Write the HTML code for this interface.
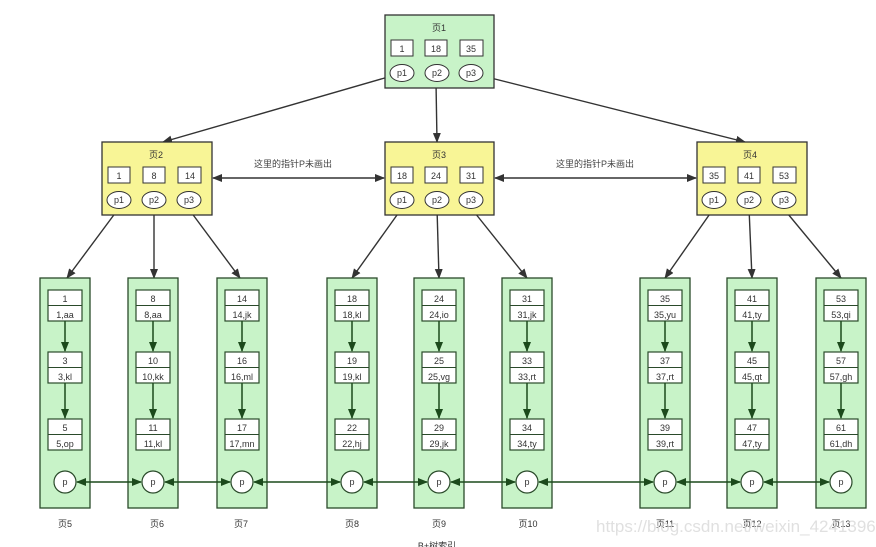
<!DOCTYPE html>
<html><head><meta charset="utf-8"><style>
html,body{margin:0;padding:0;background:#fff;}
svg{display:block;font-family:"Liberation Sans","Noto Sans CJK SC",sans-serif;}
</style></head><body>
<svg width="876" height="547" viewBox="0 0 876 547" xmlns="http://www.w3.org/2000/svg">
<defs>
<marker id="a" markerWidth="10" markerHeight="8" refX="9" refY="4" orient="auto" markerUnits="userSpaceOnUse"><path d="M0,0 L10,4 L0,8 z" fill="#333"/></marker>
<marker id="b" markerWidth="10" markerHeight="8" refX="1" refY="4" orient="auto" markerUnits="userSpaceOnUse"><path d="M10,0 L0,4 L10,8 z" fill="#333"/></marker>
<marker id="g" markerWidth="10" markerHeight="8" refX="9" refY="4" orient="auto" markerUnits="userSpaceOnUse"><path d="M0,0 L10,4 L0,8 z" fill="#1c4a1c"/></marker>
<marker id="gb" markerWidth="10" markerHeight="8" refX="1" refY="4" orient="auto" markerUnits="userSpaceOnUse"><path d="M10,0 L0,4 L10,8 z" fill="#1c4a1c"/></marker>
</defs>
<g stroke="#333" stroke-width="1.4" fill="none">
<line x1="402" y1="73" x2="163" y2="142" marker-end="url(#a)"/>
<line x1="436" y1="82" x2="437" y2="142" marker-end="url(#a)"/>
<line x1="471" y1="73" x2="745" y2="142" marker-end="url(#a)"/>
<line x1="119" y1="208" x2="67" y2="278" marker-end="url(#a)"/>
<line x1="154" y1="208" x2="154" y2="278" marker-end="url(#a)"/>
<line x1="188" y1="208" x2="240" y2="278" marker-end="url(#a)"/>
<line x1="402" y1="208" x2="352" y2="278" marker-end="url(#a)"/>
<line x1="437" y1="208" x2="439" y2="278" marker-end="url(#a)"/>
<line x1="471" y1="208" x2="527" y2="278" marker-end="url(#a)"/>
<line x1="714" y1="208" x2="665" y2="278" marker-end="url(#a)"/>
<line x1="749" y1="208" x2="752" y2="278" marker-end="url(#a)"/>
<line x1="783" y1="208" x2="841" y2="278" marker-end="url(#a)"/>
<line x1="213" y1="178" x2="384" y2="178" marker-start="url(#b)" marker-end="url(#a)"/>
<line x1="495" y1="178" x2="696" y2="178" marker-start="url(#b)" marker-end="url(#a)"/>
</g>
<g font-size="9" fill="#444">
<text x="293" y="167" text-anchor="middle">这里的指针P未画出</text>
<text x="595" y="167" text-anchor="middle">这里的指针P未画出</text>
</g>
<!-- internal nodes -->
<g font-size="9" fill="#333" text-anchor="middle">
<rect x="385" y="15" width="109" height="73" fill="#c8f3c8" stroke="#333" stroke-width="1.3"/>
<text x="439" y="31">页1</text>
<rect x="391" y="40" width="22" height="16" fill="#fff" stroke="#333"/><text x="402" y="52">1</text>
<rect x="425" y="40" width="22" height="16" fill="#fff" stroke="#333"/><text x="436" y="52">18</text>
<rect x="460" y="40" width="23" height="16" fill="#fff" stroke="#333"/><text x="471" y="52">35</text>
<ellipse cx="402" cy="73" rx="12" ry="8.5" fill="#fff" stroke="#333"/><text x="402" y="76">p1</text>
<ellipse cx="437" cy="73" rx="12" ry="8.5" fill="#fff" stroke="#333"/><text x="437" y="76">p2</text>
<ellipse cx="471" cy="73" rx="12" ry="8.5" fill="#fff" stroke="#333"/><text x="471" y="76">p3</text>

<rect x="102" y="142" width="110" height="73" fill="#f8f596" stroke="#333" stroke-width="1.3"/>
<text x="156" y="158">页2</text>
<rect x="108" y="167" width="22" height="16" fill="#fff" stroke="#333"/><text x="119" y="179">1</text>
<rect x="143" y="167" width="22" height="16" fill="#fff" stroke="#333"/><text x="154" y="179">8</text>
<rect x="178" y="167" width="23" height="16" fill="#fff" stroke="#333"/><text x="190" y="179">14</text>
<ellipse cx="119" cy="200" rx="12" ry="8.5" fill="#fff" stroke="#333"/><text x="119" y="203">p1</text>
<ellipse cx="154" cy="200" rx="12" ry="8.5" fill="#fff" stroke="#333"/><text x="154" y="203">p2</text>
<ellipse cx="189" cy="200" rx="12" ry="8.5" fill="#fff" stroke="#333"/><text x="189" y="203">p3</text>

<rect x="385" y="142" width="109" height="73" fill="#f8f596" stroke="#333" stroke-width="1.3"/>
<text x="439" y="158">页3</text>
<rect x="391" y="167" width="22" height="16" fill="#fff" stroke="#333"/><text x="402" y="179">18</text>
<rect x="425" y="167" width="22" height="16" fill="#fff" stroke="#333"/><text x="436" y="179">24</text>
<rect x="460" y="167" width="23" height="16" fill="#fff" stroke="#333"/><text x="471" y="179">31</text>
<ellipse cx="402" cy="200" rx="12" ry="8.5" fill="#fff" stroke="#333"/><text x="402" y="203">p1</text>
<ellipse cx="437" cy="200" rx="12" ry="8.5" fill="#fff" stroke="#333"/><text x="437" y="203">p2</text>
<ellipse cx="471" cy="200" rx="12" ry="8.5" fill="#fff" stroke="#333"/><text x="471" y="203">p3</text>

<rect x="697" y="142" width="110" height="73" fill="#f8f596" stroke="#333" stroke-width="1.3"/>
<text x="750" y="158">页4</text>
<rect x="703" y="167" width="22" height="16" fill="#fff" stroke="#333"/><text x="714" y="179">35</text>
<rect x="738" y="167" width="22" height="16" fill="#fff" stroke="#333"/><text x="749" y="179">41</text>
<rect x="773" y="167" width="23" height="16" fill="#fff" stroke="#333"/><text x="784" y="179">53</text>
<ellipse cx="714" cy="200" rx="12" ry="8.5" fill="#fff" stroke="#333"/><text x="714" y="203">p1</text>
<ellipse cx="749" cy="200" rx="12" ry="8.5" fill="#fff" stroke="#333"/><text x="749" y="203">p2</text>
<ellipse cx="784" cy="200" rx="12" ry="8.5" fill="#fff" stroke="#333"/><text x="784" y="203">p3</text>
</g>
<!-- leaf bodies -->
<g fill="#c8f3c8" stroke="#2a4a2a" stroke-width="1.3">
<rect x="40" y="278" width="50" height="230"/><rect x="128" y="278" width="50" height="230"/><rect x="217" y="278" width="50" height="230"/>
<rect x="327" y="278" width="50" height="230"/><rect x="414" y="278" width="50" height="230"/><rect x="502" y="278" width="50" height="230"/>
<rect x="640" y="278" width="50" height="230"/><rect x="727" y="278" width="50" height="230"/><rect x="816" y="278" width="50" height="230"/>
</g>
<!-- inner boxes -->
<g fill="#fff" stroke="#2a4a2a" stroke-width="1.2">
<rect x="48" y="290" width="34" height="31"/><rect x="48" y="352" width="34" height="31"/><rect x="48" y="419" width="34" height="31"/>
<rect x="136" y="290" width="34" height="31"/><rect x="136" y="352" width="34" height="31"/><rect x="136" y="419" width="34" height="31"/>
<rect x="225" y="290" width="34" height="31"/><rect x="225" y="352" width="34" height="31"/><rect x="225" y="419" width="34" height="31"/>
<rect x="335" y="290" width="34" height="31"/><rect x="335" y="352" width="34" height="31"/><rect x="335" y="419" width="34" height="31"/>
<rect x="422" y="290" width="34" height="31"/><rect x="422" y="352" width="34" height="31"/><rect x="422" y="419" width="34" height="31"/>
<rect x="510" y="290" width="34" height="31"/><rect x="510" y="352" width="34" height="31"/><rect x="510" y="419" width="34" height="31"/>
<rect x="648" y="290" width="34" height="31"/><rect x="648" y="352" width="34" height="31"/><rect x="648" y="419" width="34" height="31"/>
<rect x="735" y="290" width="34" height="31"/><rect x="735" y="352" width="34" height="31"/><rect x="735" y="419" width="34" height="31"/>
<rect x="824" y="290" width="34" height="31"/><rect x="824" y="352" width="34" height="31"/><rect x="824" y="419" width="34" height="31"/>
<circle cx="65" cy="482" r="11"/><circle cx="153" cy="482" r="11"/><circle cx="242" cy="482" r="11"/>
<circle cx="352" cy="482" r="11"/><circle cx="439" cy="482" r="11"/><circle cx="527" cy="482" r="11"/>
<circle cx="665" cy="482" r="11"/><circle cx="752" cy="482" r="11"/><circle cx="841" cy="482" r="11"/>
</g>
<g stroke="#2a4a2a" stroke-width="1">
<path d="M48 305.5h34M136 305.5h34M225 305.5h34M335 305.5h34M422 305.5h34M510 305.5h34M648 305.5h34M735 305.5h34M824 305.5h34"/>
<path d="M48 367.5h34M136 367.5h34M225 367.5h34M335 367.5h34M422 367.5h34M510 367.5h34M648 367.5h34M735 367.5h34M824 367.5h34"/>
<path d="M48 434.5h34M136 434.5h34M225 434.5h34M335 434.5h34M422 434.5h34M510 434.5h34M648 434.5h34M735 434.5h34M824 434.5h34"/>
</g>
<g stroke="#1c4a1c" stroke-width="1.5" marker-end="url(#g)">
<line x1="65" y1="321" x2="65" y2="351"/><line x1="65" y1="383" x2="65" y2="418"/>
<line x1="153" y1="321" x2="153" y2="351"/><line x1="153" y1="383" x2="153" y2="418"/>
<line x1="242" y1="321" x2="242" y2="351"/><line x1="242" y1="383" x2="242" y2="418"/>
<line x1="352" y1="321" x2="352" y2="351"/><line x1="352" y1="383" x2="352" y2="418"/>
<line x1="439" y1="321" x2="439" y2="351"/><line x1="439" y1="383" x2="439" y2="418"/>
<line x1="527" y1="321" x2="527" y2="351"/><line x1="527" y1="383" x2="527" y2="418"/>
<line x1="665" y1="321" x2="665" y2="351"/><line x1="665" y1="383" x2="665" y2="418"/>
<line x1="752" y1="321" x2="752" y2="351"/><line x1="752" y1="383" x2="752" y2="418"/>
<line x1="841" y1="321" x2="841" y2="351"/><line x1="841" y1="383" x2="841" y2="418"/>
</g>
<g stroke="#1c4a1c" stroke-width="1.4" marker-end="url(#g)" marker-start="url(#gb)">
<line x1="77" y1="482" x2="141" y2="482"/><line x1="165" y1="482" x2="230" y2="482"/>
<line x1="254" y1="482" x2="340" y2="482"/><line x1="364" y1="482" x2="427" y2="482"/>
<line x1="451" y1="482" x2="515" y2="482"/><line x1="539" y1="482" x2="653" y2="482"/>
<line x1="677" y1="482" x2="740" y2="482"/><line x1="764" y1="482" x2="829" y2="482"/>
</g>
<g font-size="9" fill="#333" text-anchor="middle">
<text x="65" y="302">1</text><text x="65" y="318">1,aa</text><text x="65" y="364">3</text><text x="65" y="380">3,kl</text><text x="65" y="431">5</text><text x="65" y="447">5,op</text>
<text x="153" y="302">8</text><text x="153" y="318">8,aa</text><text x="153" y="364">10</text><text x="153" y="380">10,kk</text><text x="153" y="431">11</text><text x="153" y="447">11,kl</text>
<text x="242" y="302">14</text><text x="242" y="318">14,jk</text><text x="242" y="364">16</text><text x="242" y="380">16,ml</text><text x="242" y="431">17</text><text x="242" y="447">17,mn</text>
<text x="352" y="302">18</text><text x="352" y="318">18,kl</text><text x="352" y="364">19</text><text x="352" y="380">19,kl</text><text x="352" y="431">22</text><text x="352" y="447">22,hj</text>
<text x="439" y="302">24</text><text x="439" y="318">24,io</text><text x="439" y="364">25</text><text x="439" y="380">25,vg</text><text x="439" y="431">29</text><text x="439" y="447">29,jk</text>
<text x="527" y="302">31</text><text x="527" y="318">31,jk</text><text x="527" y="364">33</text><text x="527" y="380">33,rt</text><text x="527" y="431">34</text><text x="527" y="447">34,ty</text>
<text x="665" y="302">35</text><text x="665" y="318">35,yu</text><text x="665" y="364">37</text><text x="665" y="380">37,rt</text><text x="665" y="431">39</text><text x="665" y="447">39,rt</text>
<text x="752" y="302">41</text><text x="752" y="318">41,ty</text><text x="752" y="364">45</text><text x="752" y="380">45,qt</text><text x="752" y="431">47</text><text x="752" y="447">47,ty</text>
<text x="841" y="302">53</text><text x="841" y="318">53,qi</text><text x="841" y="364">57</text><text x="841" y="380">57,gh</text><text x="841" y="431">61</text><text x="841" y="447">61,dh</text>
<text x="65" y="485">p</text><text x="153" y="485">p</text><text x="242" y="485">p</text><text x="352" y="485">p</text><text x="439" y="485">p</text><text x="527" y="485">p</text><text x="665" y="485">p</text><text x="752" y="485">p</text><text x="841" y="485">p</text>
<text x="65" y="527">页5</text><text x="157" y="527">页6</text><text x="241" y="527">页7</text><text x="352" y="527">页8</text><text x="439" y="527">页9</text><text x="528" y="527">页10</text><text x="665" y="527">页11</text><text x="752" y="527">页12</text><text x="841" y="527">页13</text>
<text x="437" y="549" font-size="9">B+树索引</text>
</g>
<text x="596" y="532" font-size="17" fill="#d8d8d8" fill-opacity="0.8">https://blog.csdn.net/weixin_42413966</text>
</svg>
</body></html>
